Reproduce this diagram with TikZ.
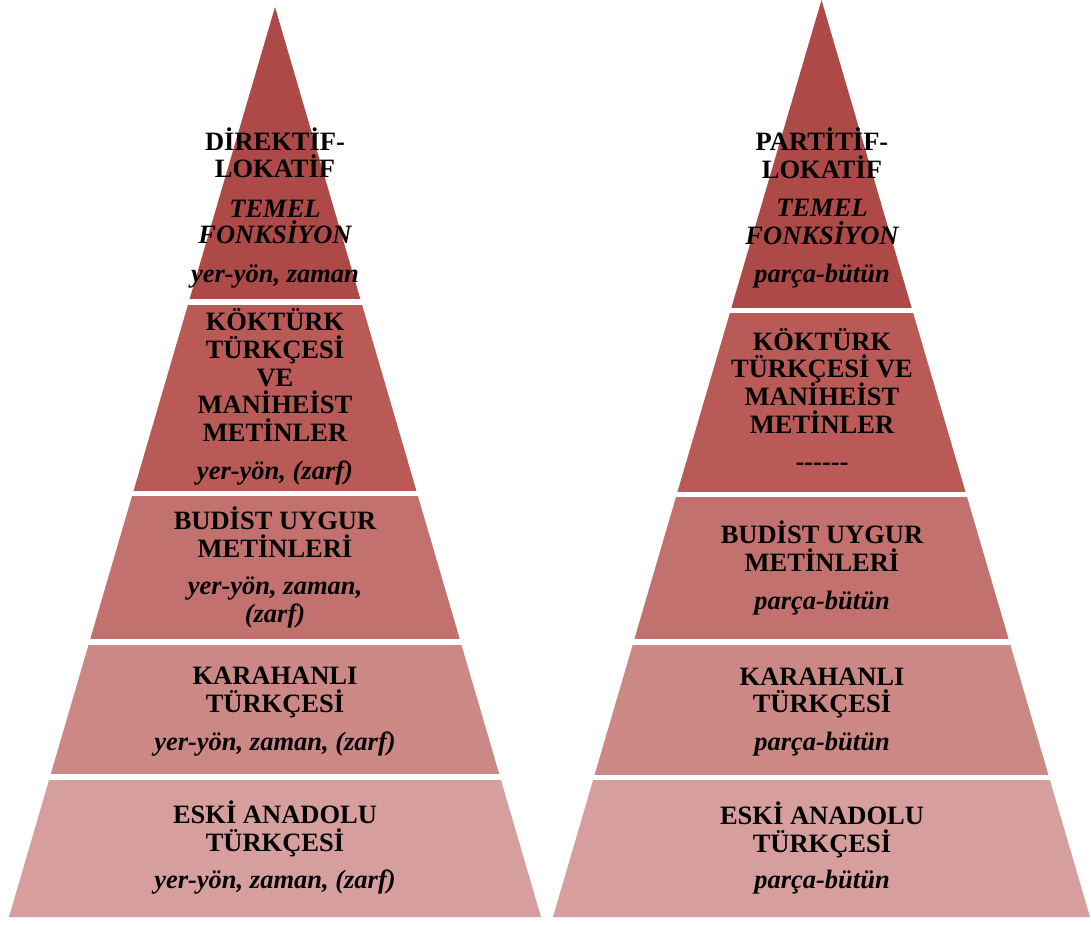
\documentclass[tikz,border=0pt]{standalone}
\usepackage{fontspec}
\setmainfont{Liberation Serif}
\definecolor{layA}{RGB}{173,74,71}
\definecolor{layB}{RGB}{185,90,87}
\definecolor{layC}{RGB}{195,113,110}
\definecolor{layD}{RGB}{204,136,133}
\definecolor{layE}{RGB}{214,159,158}
% #1 centre x, #2 apex y, #3 base y, #4 half base width, #5 band top, #6 band bottom, #7 colour
\newcommand{\pyrlayer}[7]{%
  \begin{scope}
    \clip (#1-300,#5) rectangle (#1+300,#6);
    \fill[#7] (#1,#2) -- (#1-#4,#3) -- (#1+#4,#3) -- cycle;
  \end{scope}}
\begin{document}
\begin{tikzpicture}[x=1pt,y=-1pt,
  tb/.style={font=\fontsize{26.5}{28}\selectfont\bfseries, anchor=base, inner sep=0pt, text=black},
  ti/.style={font=\fontsize{26.5}{28}\selectfont\bfseries\itshape, anchor=base, inner sep=0pt, text=black}]
\useasboundingbox (0,0) rectangle (1091,924);
\fill[white] (0,0) rectangle (1091,924);

% left pyramid
\pyrlayer{275}{7}{917}{266}{0}{298}{layA}
\pyrlayer{275}{7}{917}{266}{305}{490}{layB}
\pyrlayer{275}{7}{917}{266}{496}{638}{layC}
\pyrlayer{275}{7}{917}{266}{645}{773}{layD}
\pyrlayer{275}{7}{917}{266}{780}{917}{layE}

% right pyramid
\pyrlayer{821.5}{0}{917}{268.5}{0}{307}{layA}
\pyrlayer{821.5}{0}{917}{268.5}{313}{491}{layB}
\pyrlayer{821.5}{0}{917}{268.5}{497}{638}{layC}
\pyrlayer{821.5}{0}{917}{268.5}{645}{774}{layD}
\pyrlayer{821.5}{0}{917}{268.5}{780}{917}{layE}

% left texts
\node[tb] (la1) at (275,150) {DİREKTİF-};
\node[tb] (la2) at (275,177) {LOKATİF};
\node[ti] (la3) at (275,217) {TEMEL};
\node[ti] (la4) at (275,243) {FONKSİYON};
\node[ti] (la5) at (275,282) {yer-yön, zaman};

\node[tb] (lb1) at (275,330) {KÖKTÜRK};
\node[tb] (lb2) at (275,358) {TÜRKÇESİ};
\node[tb] (lb3) at (275,386) {VE};
\node[tb] (lb4) at (275,413) {MANİHEİST};
\node[tb] (lb5) at (275,441) {METİNLER};
\node[ti] (lb6) at (275,479) {yer-yön, (zarf)};

\node[tb] (lc1) at (275,529) {BUDİST UYGUR};
\node[tb] (lc2) at (275,557) {METİNLERİ};
\node[ti] (lc3) at (275,594) {yer-yön, zaman,};
\node[ti] (lc4) at (275,622) {(zarf)};

\node[tb] (ld1) at (275,684) {KARAHANLI};
\node[tb] (ld2) at (275,712) {TÜRKÇESİ};
\node[ti] (ld3) at (275,750) {yer-yön, zaman, (zarf)};

\node[tb] (le1) at (275,823) {ESKİ ANADOLU};
\node[tb] (le2) at (275,851) {TÜRKÇESİ};
\node[ti] (le3) at (275,888) {yer-yön, zaman, (zarf)};

% right texts
\node[tb] (ra1) at (822,150) {PARTİTİF-};
\node[tb] (ra2) at (822,178) {LOKATİF};
\node[ti] (ra3) at (822,216) {TEMEL};
\node[ti] (ra4) at (822,244) {FONKSİYON};
\node[ti] (ra5) at (822,282) {parça-bütün};

\node[tb] (rb1) at (822,350) {KÖKTÜRK};
\node[tb] (rb2) at (822,377) {TÜRKÇESİ VE};
\node[tb] (rb3) at (822,405) {MANİHEİST};
\node[tb] (rb4) at (822,433) {METİNLER};
\node[tb] (rb5) at (822,470) {-{}-{}-{}-{}-{}-};

\node[tb] (rc1) at (822,543) {BUDİST UYGUR};
\node[tb] (rc2) at (822,571) {METİNLERİ};
\node[ti] (rc3) at (822,609) {parça-bütün};

\node[tb] (rd1) at (822,685) {KARAHANLI};
\node[tb] (rd2) at (822,712) {TÜRKÇESİ};
\node[ti] (rd3) at (822,750) {parça-bütün};

\node[tb] (re1) at (822,824) {ESKİ ANADOLU};
\node[tb] (re2) at (822,852) {TÜRKÇESİ};
\node[ti] (re3) at (822,888) {parça-bütün};
\end{tikzpicture}
\end{document}
